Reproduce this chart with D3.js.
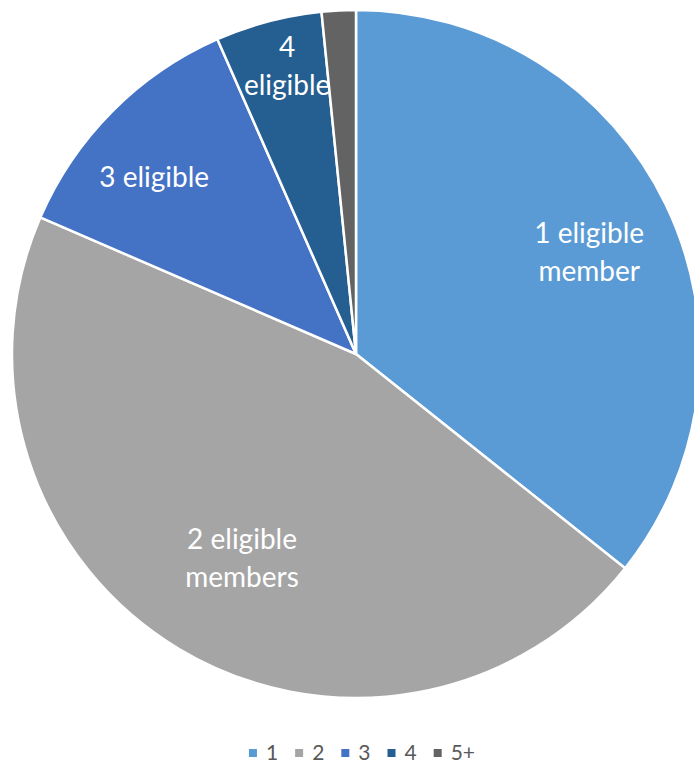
<!DOCTYPE html>
<html>
<head>
<meta charset="utf-8">
<script src="https://cdn.jsdelivr.net/npm/d3@7"></script>
<style>
  body { margin: 0; background: #fff; }
  svg { display: block; }
</style>
</head>
<body>
<div id="chart"></div>
<script>
// data
var categories = ["1", "2", "3", "4", "5+"];
var shares = [35.7, 45.8, 11.9, 5.0, 1.6];
var sliceLabels = [["1 eligible", "member"], ["2 eligible", "members"], ["3 eligible"], ["4", "eligible"], []];

var width = 694, height = 763;
var cx = 356, cy = 354, radius = 344;
var colors = ["#5B9BD5", "#A5A5A5", "#4472C4", "#255E91", "#636363"];
// label placement: radius ratio and angle nudge (degrees)
var labelRatio = [0.74, 0.68, 0.78, 0.86, 0.8];
var labelNudge = [2.1, -1.8, -3.6, 1.3, 0];

var svg = d3.select("#chart")
    .append("svg")
    .attr("width", width)
    .attr("height", height);

var pie = d3.pie()
    .sort(null)
    .value(function(d) { return d; });

var arc = d3.arc()
    .innerRadius(0)
    .outerRadius(radius);

var arcs = pie(shares);

var g = svg.append("g")
    .attr("transform", "translate(" + cx + "," + cy + ")");

g.selectAll("path")
    .data(arcs)
    .enter()
    .append("path")
    .attr("d", arc)
    .attr("fill", function(d, i) { return colors[i]; })
    .attr("stroke", "#fff")
    .attr("stroke-width", 2.5)
    .attr("stroke-linejoin", "round");

var label = g.selectAll(".label")
    .data(arcs)
    .enter()
    .append("text")
    .attr("class", "label")
    .attr("text-anchor", "middle")
    .attr("font-family", "Lato, 'Open Sans', sans-serif")
    .attr("font-size", 28)
    .attr("fill", "#fff")
    .attr("transform", function(d, i) {
        var r = radius * labelRatio[i];
        var a = (d.startAngle + d.endAngle) / 2 + labelNudge[i] * Math.PI / 180;
        return "translate(" + (r * Math.sin(a)) + "," + (-r * Math.cos(a)) + ")";
    });

label.each(function(d, i) {
    var lines = sliceLabels[i];
    var lh = 38;
    var y0 = -(lines.length - 1) * lh / 2 + 10;
    d3.select(this).selectAll("tspan")
        .data(lines)
        .enter()
        .append("tspan")
        .attr("x", 0)
        .attr("y", function(t, j) { return y0 + j * lh; })
        .text(function(t) { return t; });
});

// legend
var legend = svg.append("g");
var x = 0;
categories.forEach(function(c, i) {
    var it = legend.append("g").attr("transform", "translate(" + x + ",0)");
    it.append("rect")
        .attr("x", 0).attr("y", -11)
        .attr("width", 8).attr("height", 8)
        .attr("fill", colors[i]);
    var t = it.append("text")
        .attr("x", 17).attr("y", 0)
        .attr("font-family", "Lato, 'Open Sans', sans-serif")
        .attr("font-size", 21)
        .attr("fill", "#595959")
        .text(c);
    x += 17 + t.node().getComputedTextLength() + 17;
});
var lw = x - 17;
legend.attr("transform", "translate(" + (362 - lw / 2) + ",760)");
</script>
</body>
</html>
